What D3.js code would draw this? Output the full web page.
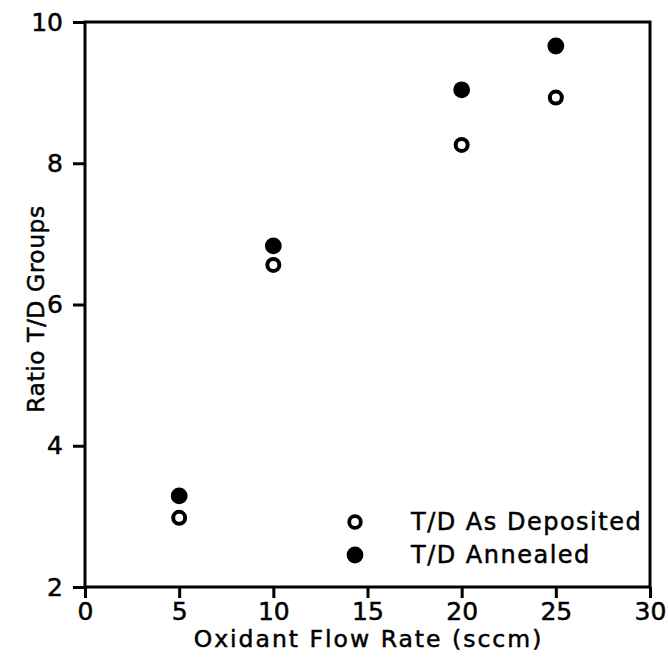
<!DOCTYPE html>
<html><head><meta charset="utf-8">
<script src="https://cdn.jsdelivr.net/npm/d3@7"></script>
<style>body{margin:0;background:#fff}</style>
</head><body>
<svg id="c" width="668" height="668"></svg>
<script>
const flow = [5, 10, 20, 25];
const deposited = [2.98, 6.56, 8.26, 8.93];
const annealed = [3.29, 6.83, 9.04, 9.66];
const xTicks = [0, 5, 10, 15, 20, 25, 30];
const yTicks = [2, 4, 6, 8, 10];
const seriesNames = ["T/D As Deposited", "T/D Annealed"];

const svg = d3.select("#c");
const font = "'DejaVu Sans', sans-serif";
const L = 85, R = 650, T = 22, B = 587;
const x = d3.scaleLinear().domain([0, 30]).range([L, R]);
const y = d3.scaleLinear().domain([2, 10]).range([B, T]);

function styleText(sel, size, ls) {
  sel.attr("font-family", font).attr("font-size", size).attr("fill", "#000")
    .attr("stroke", "#000").attr("stroke-width", 0.5).attr("letter-spacing", ls || 0);
}

// frame
svg.append("rect").attr("x", L).attr("y", T).attr("width", R - L).attr("height", B - T)
  .attr("fill", "none").attr("stroke", "#000").attr("stroke-width", 3);

const xa = svg.append("g").attr("transform", `translate(0,${B})`)
  .call(d3.axisBottom(x).tickValues(xTicks).tickSize(11).tickPadding(4).tickFormat(d3.format("d")));
const ya = svg.append("g").attr("transform", `translate(${L},0)`)
  .call(d3.axisLeft(y).tickValues(yTicks).tickSize(12).tickPadding(10).tickFormat(d3.format("d")));
[xa, ya].forEach(a => {
  a.select(".domain").remove();
  a.selectAll("line").attr("stroke", "#000").attr("stroke-width", 3);
  styleText(a.selectAll("text"), 25, 0);
});

styleText(svg.append("text").attr("x", (L + R) / 2 + 1).attr("y", 647).attr("text-anchor", "middle")
  .text("Oxidant Flow Rate (sccm)"), 23.5, 2);
styleText(svg.append("text").attr("transform", `translate(44,309) rotate(-90)`).attr("text-anchor", "middle")
  .text("Ratio T/D Groups"), 23.5, 0.5);

// points
svg.append("g").selectAll("circle").data(flow).join("circle")
  .attr("cx", d => x(d)).attr("cy", (d, i) => y(deposited[i])).attr("r", 6)
  .attr("fill", "#fff").attr("stroke", "#000").attr("stroke-width", 4);
svg.append("g").selectAll("circle").data(flow).join("circle")
  .attr("cx", d => x(d)).attr("cy", (d, i) => y(annealed[i])).attr("r", 8.4)
  .attr("fill", "#000");

// legend
const lg = svg.append("g");
lg.append("circle").attr("cx", 355).attr("cy", 522).attr("r", 5.8).attr("fill", "#fff")
  .attr("stroke", "#000").attr("stroke-width", 3.8);
lg.append("circle").attr("cx", 355).attr("cy", 555).attr("r", 8.4).attr("fill", "#000");
seriesNames.forEach((s, i) => {
  styleText(lg.append("text").attr("x", 411).attr("y", 530 + i * 33).text(s), 24, 1.5);
});
</script>
</body></html>
